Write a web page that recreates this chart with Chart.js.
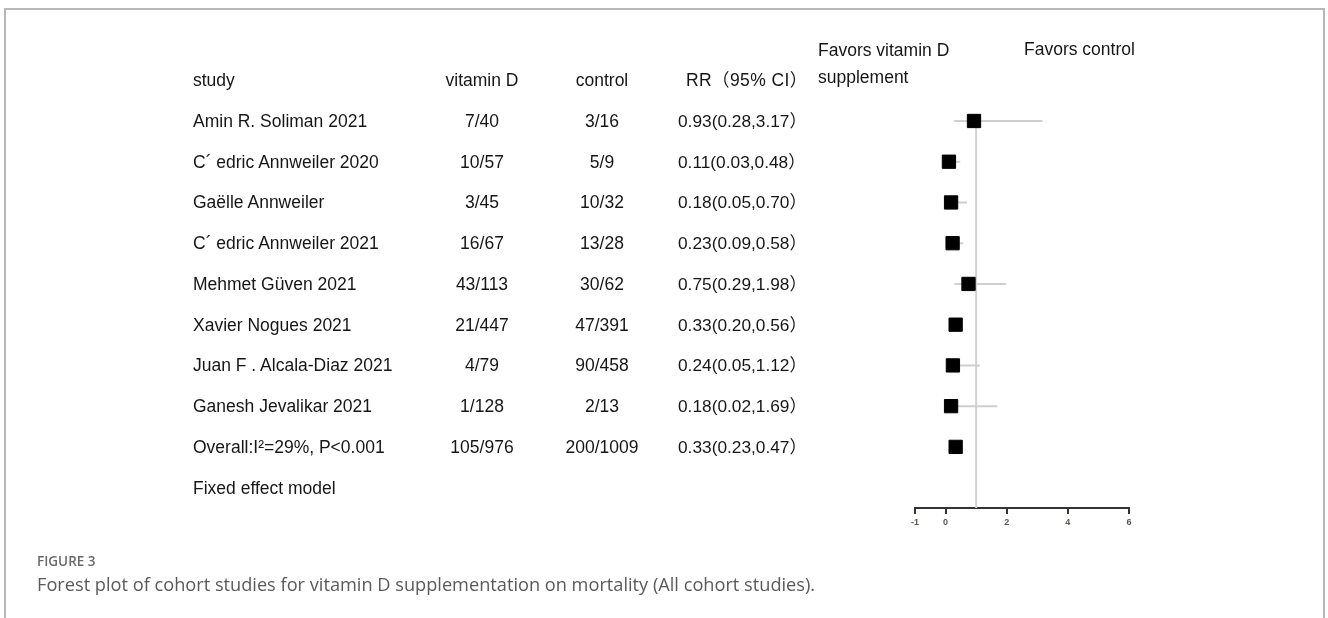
<!DOCTYPE html>
<html>
<head>
<meta charset="utf-8">
<script src="https://cdn.jsdelivr.net/npm/chart.js@4/dist/chart.umd.min.js"></script>
<style>
  html, body { margin: 0; padding: 0; background: #fff; }
  body { width: 1328px; height: 618px; position: relative; overflow: hidden; }
  #frame {
    position: absolute; left: 4px; top: 8px; width: 1321px; height: 640px;
    border: 2px solid #b8b8b8; border-bottom: none; box-sizing: border-box;
  }
  #plot { position: absolute; left: 0; top: 0; }
  .lbl {
    position: absolute; white-space: nowrap; color: #161616;
    font-family: "Liberation Sans", Arial, "Noto Sans CJK SC", sans-serif;
    font-size: 17.5px; line-height: 22px; height: 22px;
  }
  .c { text-align: center; width: 140px; }
  .rr { font-size: 17.3px; }
  .rrh { font-size: 17.5px; letter-spacing: 0.4px; }
  #figno {
    position: absolute; left: 37px; top: 552px; font-family: "Open Sans", Lato, sans-serif;
    font-size: 13.5px; font-weight: 600; color: #6a6a6a;
  }
  #caption {
    position: absolute; left: 37px; top: 572px; font-family: "Open Sans", Lato, sans-serif;
    font-size: 18.2px; color: #5a5a5a; white-space: nowrap; font-variant-ligatures: none;
  }
</style>
</head>
<body>
<div id="frame"></div>
<canvas id="plot" width="1328" height="618"></canvas>
<div id="figno">FIGURE 3</div>
<div id="caption">Forest plot of cohort studies for vitamin D supplementation on mortality (All cohort studies).</div>
<script>
// Study rows (the last row is the pooled estimate)
const studies = [
  "Amin R. Soliman 2021",
  "C\u00B4 edric Annweiler 2020",
  "Ga\u00EBlle Annweiler",
  "C\u00B4 edric Annweiler 2021",
  "Mehmet G\u00FCven 2021",
  "Xavier Nogues 2021",
  "Juan F . Alcala-Diaz 2021",
  "Ganesh Jevalikar 2021",
  "Overall:I\u00B2=29%, P<0.001"
];
const vitaminD = ["7/40", "10/57", "3/45", "16/67", "43/113", "21/447", "4/79", "1/128", "105/976"];
const control  = ["3/16", "5/9", "10/32", "13/28", "30/62", "47/391", "90/458", "2/13", "200/1009"];
const rr    = [0.93, 0.11, 0.18, 0.23, 0.75, 0.33, 0.24, 0.18, 0.33];
const ciLow = [0.28, 0.03, 0.05, 0.09, 0.29, 0.20, 0.05, 0.02, 0.23];
const ciHigh= [3.17, 0.48, 0.70, 0.58, 1.98, 0.56, 1.12, 1.69, 0.47];
const xTicks = [-1, 0, 2, 4, 6];
const headers = ["study", "vitamin D", "control", "RR\uFF0895% CI\uFF09"];
const modelNote = "Fixed effect model";
const nullValue = 1;

const rows = studies.map((_, i) => i + 1);
const yBottom = rows.length + 1.5;   // row slot below the model note line

// Confidence-interval whiskers, one line dataset per study
const ciSets = rows.map((row, i) => ({
  type: "line",
  data: [{ x: ciLow[i], y: row }, { x: ciHigh[i], y: row }],
  borderColor: "#cfcfcf",
  borderWidth: 2,
  pointRadius: 0,
  order: 2
}));

const config = {
  type: "scatter",
  data: {
    datasets: [
      {
        // Point estimates
        data: rows.map((row, i) => ({ x: rr[i], y: row })),
        pointStyle: "rect",
        pointRadius: 9.4,
        backgroundColor: "#000",
        borderColor: "#000",
        borderWidth: 1,
        order: 0
      },
      {
        // Line of no effect
        type: "line",
        data: [{ x: nullValue, y: 1 }, { x: nullValue, y: yBottom }],
        borderColor: "#d2d2d2",
        borderWidth: 2,
        pointRadius: 0,
        order: 3
      },
      ...ciSets
    ]
  },
  options: {
    responsive: false,
    animation: false,
    events: [],
    layout: { padding: { left: 915, right: 199, top: 80.25, bottom: 80 } },
    plugins: { legend: { display: false }, tooltip: { enabled: false } },
    scales: {
      x: {
        type: "linear",
        min: -1,
        max: 6,
        position: "bottom",
        afterBuildTicks: (scale) => { scale.ticks = xTicks.map(v => ({ value: v })); },
        afterFit: (scale) => { scale.height = 30; },
        grid: { drawOnChartArea: false, drawTicks: true, tickLength: 6, color: "#333", lineWidth: 2 },
        border: { display: true, color: "#333", width: 2 },
        ticks: {
          autoSkip: false, maxRotation: 0, padding: 3,
          color: "#5b5450",
          font: { family: "Liberation Sans, Arial, sans-serif", size: 9, weight: "bold" }
        }
      },
      y: {
        type: "linear",
        reverse: true,
        min: 0,
        max: yBottom,
        display: false
      }
    }
  }
};

const chart = new Chart(document.getElementById("plot"), config);

// Text table placed on the rows of the y scale
function addLabel(text, x, y, cls, centered) {
  const d = document.createElement("div");
  d.className = "lbl" + (cls ? " " + cls : "");
  d.textContent = text;
  if (centered) { d.classList.add("c"); d.style.left = (x - 70) + "px"; }
  else d.style.left = x + "px";
  d.style.top = (y - 11) + "px";
  document.body.appendChild(d);
}

const ys = chart.scales.y;
const headY = ys.getPixelForValue(0);
addLabel(headers[0], 193, headY);
addLabel(headers[1], 482, headY, "", true);
addLabel(headers[2], 602, headY, "", true);
addLabel(headers[3], 686, headY, "rrh");

rows.forEach((row, i) => {
  const y = ys.getPixelForValue(row);
  addLabel(studies[i], 193, y);
  addLabel(vitaminD[i], 482, y, "", true);
  addLabel(control[i], 602, y, "", true);
  addLabel(rr[i].toFixed(2) + "(" + ciLow[i].toFixed(2) + "," + ciHigh[i].toFixed(2) + "\uFF09", 678, y, "rr");
});
addLabel(modelNote, 193, ys.getPixelForValue(rows.length + 1));

// Direction labels above the plot
addLabel("Favors vitamin D", 818, headY - 30);
addLabel("supplement", 818, headY - 3);
addLabel("Favors control", 1024, headY - 31);
</script>
</body>
</html>
